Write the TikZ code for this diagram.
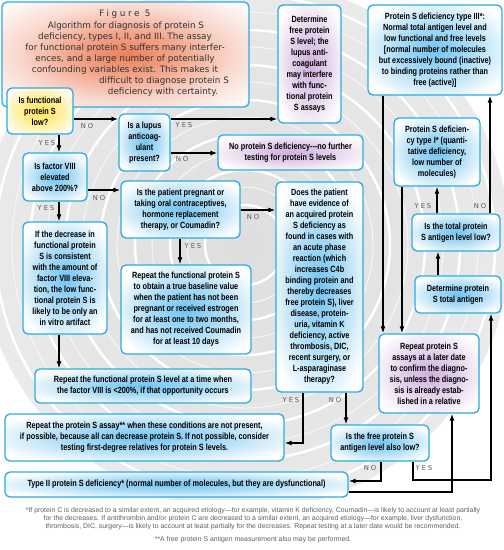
\documentclass[tikz,border=0pt]{standalone}
\usepackage{fontspec}
\setmainfont{Liberation Sans}
\newfontfamily\bx[FakeStretch=0.81]{Liberation Sans}
\newfontfamily\capfont{DejaVu Sans}
\newfontfamily\figfont[LetterSpace=30]{DejaVu Sans}
\newfontfamily\lblfont[LetterSpace=28]{DejaVu Sans}
\usetikzlibrary{arrows.meta,calc}
\definecolor{boxc}{RGB}{41,171,226}
\definecolor{gbc}{RGB}{115,196,240}
\definecolor{gpc}{RGB}{208,176,222}
\definecolor{gyc}{RGB}{255,230,100}
\definecolor{goc}{RGB}{236,128,92}
\definecolor{txtc}{RGB}{50,50,50}
\pgfdeclareradialshading{gb}{\pgfpoint{0bp}{0bp}}{color(0bp)=(gbc); color(14bp)=(gbc!60!white); color(30bp)=(white); color(50bp)=(white)}
\pgfdeclareradialshading{gp}{\pgfpoint{0bp}{0bp}}{color(0bp)=(gpc); color(14bp)=(gpc!60!white); color(30bp)=(white); color(50bp)=(white)}
\pgfdeclareradialshading{gy}{\pgfpoint{0bp}{0bp}}{color(0bp)=(gyc); color(14bp)=(gyc!70!white); color(32bp)=(white); color(50bp)=(white)}
\pgfdeclareradialshading{go}{\pgfpoint{0bp}{0bp}}{color(0bp)=(goc); color(11bp)=(goc!70!white); color(22bp)=(goc!30!white); color(32bp)=(goc!6!white); color(38bp)=(white); color(50bp)=(white)}
\pgfdeclareradialshading{bgs}{\pgfpoint{0bp}{0bp}}{color(0bp)=(gray!26); color(20bp)=(gray!19); color(38bp)=(gray!8); color(50bp)=(white)}
\tikzset{
  box/.style={draw=boxc, line width=1.3pt, rounded corners=5pt, align=center,
    font=\bx\bfseries\fontsize{9}{11}\selectfont, inner sep=0pt, text=black, shade},
  captxt/.style={font=\capfont\fontsize{8.8}{11}\selectfont, text=txtc, inner sep=0pt, text height=6.2pt, text depth=1.8pt},
  lbl/.style={font=\lblfont\fontsize{6.8}{8}\selectfont, text=gray!70!black, inner sep=0pt},
  arr/.style={line width=1.8pt, -{Latex[length=7pt,width=5pt]}},
  fn/.style={font=\fontsize{6.9}{8}\selectfont, text=gray!75!black, align=center, inner sep=0pt}
}
\begin{document}
\begin{tikzpicture}[x=1pt,y=-1pt]
\useasboundingbox (0,0) rectangle (504,550);
\fill[white] (0,0) rectangle (504,550);
% background
\shade[shading=bgs] (245,245) circle (265pt);
\foreach \r in {40,75,110,145,180,215,250}
  \draw[white, line width=2.5pt] (245,245) circle (\r pt);
\foreach \r in {58,93,128,163,198,233}
  \draw[gray!6, line width=1pt] (245,245) circle (\r pt);
\fill[white] (0,500) rectangle (504,550);

% caption box
\node[box, shading=go, minimum width=247pt, minimum height=105pt] (cap) at (125.5,54.5) {};
\node[captxt, font=\figfont\fontsize{8.8}{11}\selectfont] (c0) at (125,14) {Figure 5};
\node[captxt] (c1) at (126,26) {Algorithm for diagnosis of protein S};
\node[captxt] (c2) at (125,37) {deficiency, types I, II, and III. The assay};
\node[captxt] (c3) at (125,48) {for functional protein S suffers many interfer-};
\node[captxt] (c4) at (125,59) {ences, and a large number of potentially};
\node[captxt] (c5) at (125,70) {confounding variables exist. This makes it};
\node[captxt] (c6) at (164,81) {difficult to diagnose protein S};
\node[captxt] (c7) at (163,92) {deficiency with certainty.};

% boxes
\node[box, shading=gy, minimum width=66pt, minimum height=46pt] (funcq) at (40,111) {Is functional\\protein S\\low?};
\node[box, shading=gb, minimum width=51pt, minimum height=57pt] (lupus) at (144.5,142.5) {Is a lupus\\anticoag-\\ulant\\present?};
\node[box, shading=gp, minimum width=63pt, minimum height=118pt] (detfree) at (309.5,64) {Determine\\free protein\\S level; the\\lupus anti-\\coagulant\\may interfere\\with func-\\tional protein\\S assays};
\node[box, shading=gp, minimum width=145pt, minimum height=35pt] (noprot) at (290.5,152.5) {No protein S deficiency---no further\\testing for protein S levels};
\node[box, shading=gb, minimum width=64pt, minimum height=48pt] (factor) at (55,177) {Is factor VIII\\elevated\\above 200\%?};
\node[box, shading=gb, minimum width=119pt, minimum height=57pt] (pregnant) at (180.5,209.5) {Is the patient pregnant or\\taking oral contraceptives,\\hormone replacement\\therapy, or Coumadin?};
\node[box, shading=gb, minimum width=87pt, minimum height=210pt] (acquired) at (319.5,287) {Does the patient\\have evidence of\\an acquired protein\\S deficiency as\\found in cases with\\an acute phase\\reaction (which\\increases C4b\\binding protein and\\thereby decreases\\free protein S), liver\\disease, protein-\\uria, vitamin K\\deficiency, active\\thrombosis, DIC,\\recent surgery, or\\L-asparaginase\\therapy?};
\node[box, shading=gb, minimum width=130pt, minimum height=89pt] (repfunc1) at (186,309.5) {Repeat the functional protein S\\to obtain a true baseline value\\when the patient has not been\\pregnant or received estrogen\\for at least one to two months,\\and has not received Coumadin\\for at least 10 days};
\node[box, shading=gb, minimum width=84pt, minimum height=112pt] (ifdec) at (65,278) {If the decrease in\\functional protein\\S is consistent\\with the amount of\\factor VIII eleva-\\tion, the low func-\\tional protein S is\\likely to be only an\\in vitro artifact};
\node[box, shading=gb, minimum width=216pt, minimum height=34pt] (repfunc2) at (143,386) {Repeat the functional protein S level at a time when\\the factor VIII is <200\%, if that opportunity occurs};
\node[box, shading=gb, minimum width=279pt, minimum height=47pt] (repassay) at (144.5,437.5) {Repeat the protein S assay** when these conditions are not present,\\if possible, because all can decrease protein S. If not possible, consider\\testing first-degree relatives for protein S levels.};
\node[box, shading=gb, minimum width=98pt, minimum height=36pt] (freeq) at (380,443) {Is the free protein S\\antigen level also low?};
\node[box, shading=gb, minimum width=343pt, minimum height=25pt] (typeII) at (176.5,484.5) {Type II protein S deficiency* (normal number of molecules, but they are dysfunctional)};
\node[box, shading=gb, minimum width=134pt, minimum height=90pt] (typeIII) at (435,50) {Protein S deficiency type III*:\\Normal total antigen level and\\low functional and free levels\\{[}normal number of molecules\\but excessively bound (inactive)\\to binding proteins rather than\\free (active){]}};
\node[box, shading=gb, minimum width=86pt, minimum height=68pt] (typeI) at (437,152) {Protein S deficien-\\cy type I* (quanti-\\tative deficiency,\\low number of\\molecules)};
\node[box, shading=gb, minimum width=88pt, minimum height=37pt] (totalq) at (456,232.5) {Is the total protein\\S antigen level low?};
\node[box, shading=gb, minimum width=86pt, minimum height=37pt] (dettotal) at (458,294.5) {Determine protein\\S total antigen};
\node[box, shading=gp, minimum width=100pt, minimum height=79pt] (repassays) at (429,373.5) {Repeat protein S\\assays at a later date\\to confirm the diagno-\\sis, unless the diagno-\\sis is already estab-\\lished in a relative};

% connectors
\draw[arr] (funcq.east |- 0,119) -- (lupus.west |- 0,119);
\draw[arr] (funcq.south -| 59,0) -- (factor.north -| 59,0);
\draw[arr] (lupus.east |- 0,119) -- (detfree.west |- 0,119);
\draw[arr] (lupus.east |- 0,153) -- (noprot.west |- 0,153);
\draw[arr] (factor.south -| 59,0) -- (ifdec.north -| 59,0);
\draw[arr] (factor.east |- 0,190) -- (pregnant.west |- 0,190);
\draw[arr] (pregnant.east |- 0,210) -- (acquired.west |- 0,210);
\draw[arr] (pregnant.south -| 180,0) -- (repfunc1.north -| 180,0);
\draw[arr] (ifdec.south -| 59,0) -- (repfunc2.north -| 59,0);
\draw[arr] (acquired.south -| 303,0) |- (repassay.east |- 0,443);
\draw[arr] (acquired.south -| 346,0) -- (freeq.north -| 346,0);
\draw[arr] (freeq.south -| 381,0) |- (typeII.east |- 0,481);
\draw[arr] (freeq.south -| 413,0) |- (491,480) -- (dettotal.south -| 491,0);
\draw[arr] (typeII.east |- 0,492) -| (repassays.south -| 452,0);
\draw[arr] (dettotal.north -| 438,0) -- (totalq.south -| 438,0);
\draw[arr] (totalq.north -| 437,0) -- (typeI.south -| 437,0);
\draw[arr] (totalq.north -| 490,0) -- (typeIII.south -| 490,0);
\draw[arr] (typeIII.south -| 383,0) -- (repassays.north -| 383,0);
\draw[arr] (typeI.south -| 402,0) -- (repassays.north -| 402,0);

% labels
\node[lbl] (l1) at (87,126) {NO};
\node[lbl] (l2) at (47,143) {YES};
\node[lbl] (l3) at (184,125) {YES};
\node[lbl] (l4) at (182,159) {NO};
\node[lbl] (l5) at (46,208) {YES};
\node[lbl] (l6) at (99,198) {NO};
\node[lbl] (l7) at (253,217) {NO};
\node[lbl] (l8) at (193,246) {YES};
\node[lbl] (l9) at (291,400) {YES};
\node[lbl] (l10) at (335,400) {NO};
\node[lbl] (l11) at (370,468) {NO};
\node[lbl] (l12) at (424,468) {YES};
\node[lbl] (l13) at (423,206) {YES};
\node[lbl] (l14) at (480,206) {NO};

% footnotes
\node[fn] (fn1) at (253,519) {*If protein C is decreased to a similar extent, an acquired etiology---for example, vitamin K deficiency, Coumadin---is likely to account at least partially\\for the decreases. If antithrombin and/or protein C are decreased to a similar extent, an acquired etiology---for example, liver dysfunction,\\thrombosis, DIC, surgery---is likely to account at least partially for the decreases. Repeat testing at a later date would be recommended.};
\node[fn] (fn2) at (253,540) {**A free protein S antigen measurement also may be performed.};
\end{tikzpicture}
\end{document}
